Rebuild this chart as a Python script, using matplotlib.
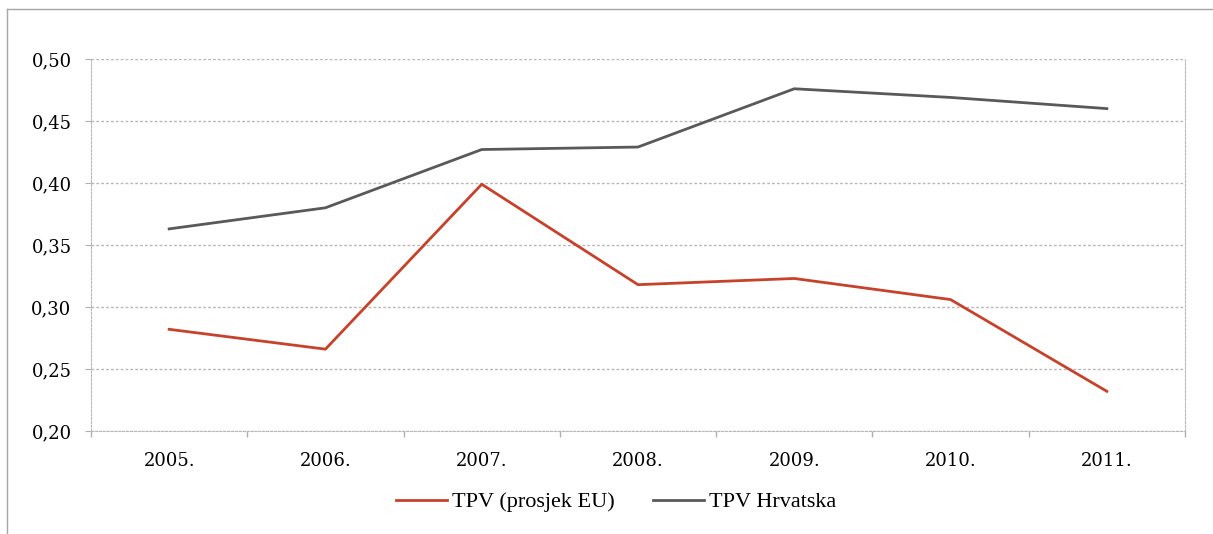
import numpy as np
import matplotlib
matplotlib.use('Agg')
import matplotlib.pyplot as plt
from matplotlib.lines import Line2D

# Podaci
godine = ['2005.', '2006.', '2007.', '2008.', '2009.', '2010.', '2011.']
tpv_eu = [0.282, 0.266, 0.399, 0.318, 0.323, 0.306, 0.232]
tpv_hr = [0.363, 0.380, 0.427, 0.429, 0.476, 0.469, 0.460]
y_ticks = [0.20, 0.25, 0.30, 0.35, 0.40, 0.45, 0.50]

plt.rcParams['font.family'] = ['Liberation Serif', 'DejaVu Serif']

W, H = 1213, 534
fig = plt.figure(figsize=(W / 100, H / 100), dpi=100)
ax = fig.add_axes([91 / W, 1 - 431 / H, (1185 - 91) / W, (431 - 59) / H])

x = np.arange(len(godine))
ax.plot(x, tpv_eu, color='#C8412A', lw=2, label='TPV (prosjek EU)')
ax.plot(x, tpv_hr, color='#595959', lw=2, label='TPV Hrvatska')

ax.set_xlim(-0.5, len(godine) - 0.5)
ax.set_ylim(0.20, 0.50)
ax.set_yticks(y_ticks)
ax.set_yticklabels([('%.2f' % v).replace('.', ',') for v in y_ticks],
                   fontsize=13, family='DejaVu Serif')
ax.set_xticks(x)
ax.set_xticklabels(godine, fontsize=13, family='DejaVu Serif')
ax.set_xticks(np.arange(-0.5, len(godine)), minor=True)
ax.tick_params(axis='x', which='major', length=0, pad=15)
ax.tick_params(axis='x', which='minor', length=4, color='#b0b0b0', width=1)
ax.tick_params(axis='y', length=4, color='#b0b0b0', pad=10, direction='out')

ax.grid(axis='y', color='#b8b8b8', linestyle=(0, (2, 1.5)), lw=1)
for s in ['left', 'right', 'bottom', 'top']:
    ax.spines[s].set_color('#b8b8b8')
    ax.spines[s].set_linestyle((0, (2, 1.5)))
ax.spines['top'].set_visible(False)

ax.legend(loc='upper center', bbox_to_anchor=(0.48, -0.11), ncol=2, frameon=False,
          fontsize=16, handlelength=2.3, columnspacing=1.7, handletextpad=0.25)

# okvir oko grafikona
fig.add_artist(Line2D([7 / W, 1.0], [1 - 9 / H, 1 - 9 / H], color='#a6a6a6', lw=1))
fig.add_artist(Line2D([7 / W, 7 / W], [0, 1 - 9 / H], color='#a6a6a6', lw=1))

fig.savefig('out.png', dpi=100)
